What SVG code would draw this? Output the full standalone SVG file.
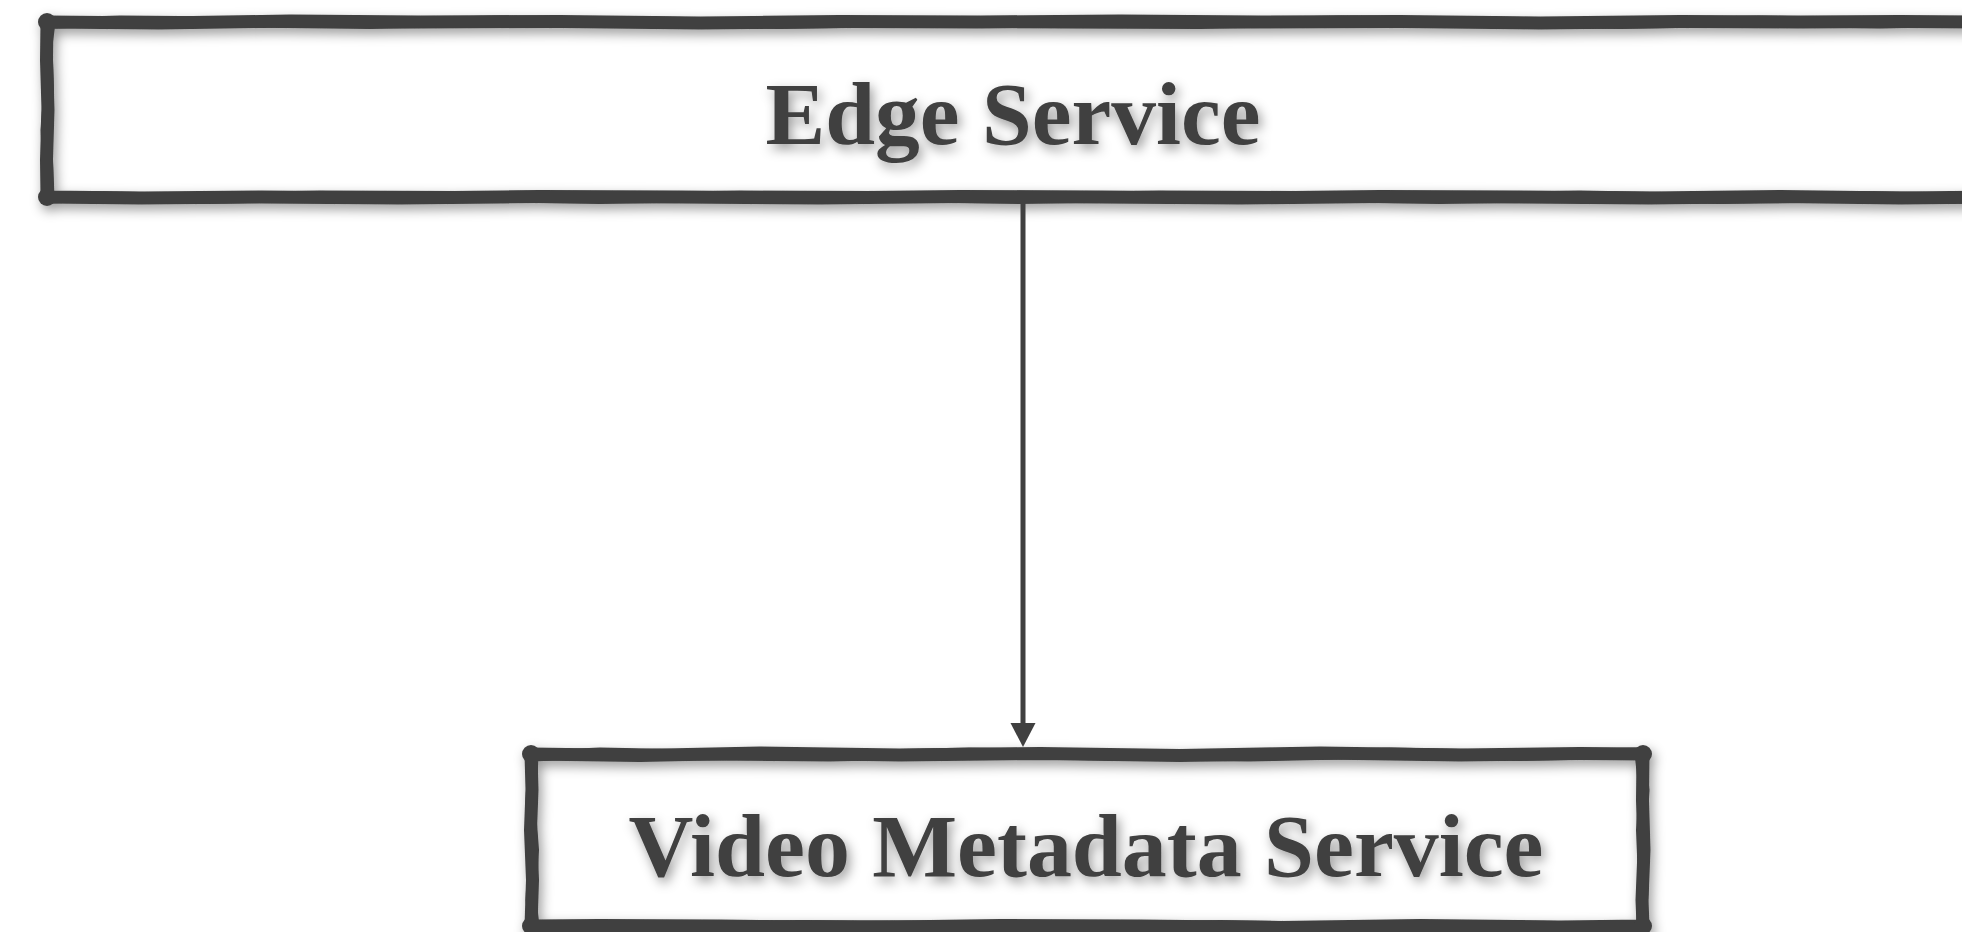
<svg xmlns="http://www.w3.org/2000/svg" width="1962" height="932" viewBox="0 0 1962 932">
  <defs>
    <filter id="soft-shadow" x="-5%" y="-20%" width="110%" height="140%">
      <feDropShadow dx="3" dy="5" stdDeviation="6" flood-color="#000" flood-opacity="0.4"/>
    </filter>
    <style>
      .frame { fill: none; stroke: #404040; stroke-linejoin: round; stroke-linecap: round; }
      .frame-main { stroke-width: 13; }
      .frame-wobble { stroke-width: 11; }
      .corner { fill: #404040; }
      .label { font-family: "Liberation Serif", "DejaVu Serif", serif; font-weight: bold; fill: #404040; text-anchor: middle; }
      .link { stroke: #404040; stroke-width: 5; fill: none; }
    </style>
  </defs>

  <rect width="1962" height="932" fill="#ffffff"/>

  <!-- Edge Service -->
  <g id="edge-service">
    <rect x="47" y="22" width="1945" height="175" fill="#ffffff"/>
    <g filter="url(#soft-shadow)">
      <path class="frame frame-main" d="M47,22 L160,23 L290,21 L420,22 L560,21.5 L700,23 L840,21.5 L980,22 L1120,21 L1260,22 L1400,21.5 L1540,23 L1680,21.5 L1800,22 L1900,21.5 L1990,22 L1990,197 L1900,198 L1780,196.5 L1650,198 L1520,197 L1380,196.5 L1240,198 L1100,197 L960,196.5 L820,198 L680,197 L540,196.5 L400,198 L260,197 L140,198 L47,197 L46.5,160 L48,110 L46.5,60 Z"/>
      <path class="frame frame-wobble" d="M50,23 L120,21 L240,22 L370,23.5 L500,21 L640,22 L780,23.5 L920,21.5 L1060,23 L1200,23.5 L1340,21 L1480,22 L1620,23.5 L1760,21 L1880,23 L1990,21 M1990,198.5 L1860,196.5 L1720,198.5 L1580,196 L1440,198.5 L1300,196.5 L1160,196 L1020,198.5 L880,196.5 L740,196 L600,198.5 L460,196.5 L320,196 L200,198.5 L90,196.5 L49,198 M49,198 L48,170 L46,130 L48.5,90 L47,45 L50,23"/>
      <circle class="corner" cx="47" cy="22" r="9"/>
      <circle class="corner" cx="47" cy="197" r="9"/>
      <text class="label" x="1013" y="144" font-size="88" textLength="495" lengthAdjust="spacingAndGlyphs">Edge Service</text>
    </g>
  </g>

  <!-- Video Metadata Service -->
  <g id="video-metadata-service">
    <rect x="531" y="754" width="1112" height="172" fill="#ffffff"/>
    <g filter="url(#soft-shadow)">
      <path class="frame frame-main" d="M531,754 L640,755.5 L760,753 L900,755 L1040,753.5 L1180,755.5 L1320,753 L1460,755 L1580,753.5 L1643,754 L1642.5,800 L1644,850 L1642,900 L1643,926 L1560,927 L1420,925.5 L1280,927.5 L1140,926 L1000,925.5 L860,927.5 L720,926 L600,925.5 L531,926 L532.5,880 L530.5,830 L532,790 Z"/>
      <path class="frame frame-wobble" d="M533,756 L600,753 L700,755 L830,756 L970,753 L1110,755 L1250,756 L1390,753 L1520,755.5 L1640,753 L1644,790 L1641.5,830 L1643.5,880 L1641.5,928 L1500,925.5 L1360,927.5 L1220,925.5 L1080,927.5 L940,926 L800,925.5 L660,927.5 L534,926 L531,900 L533.5,850 L530.5,810 L533,756"/>
      <circle class="corner" cx="531" cy="754" r="9"/>
      <circle class="corner" cx="1643" cy="754" r="9"/>
      <circle class="corner" cx="531" cy="926" r="9"/>
      <circle class="corner" cx="1643" cy="926" r="9"/>
      <text class="label" x="1086" y="876" font-size="89" textLength="915" lengthAdjust="spacingAndGlyphs">Video Metadata Service</text>
    </g>
  </g>

  <!-- connectors -->
  <g id="connectors">
    <line class="link" x1="1023" y1="203" x2="1023" y2="725"/>
    <path d="M1010.5,723 L1035.5,723 L1023,747 Z" fill="#404040"/>
  </g>
</svg>
